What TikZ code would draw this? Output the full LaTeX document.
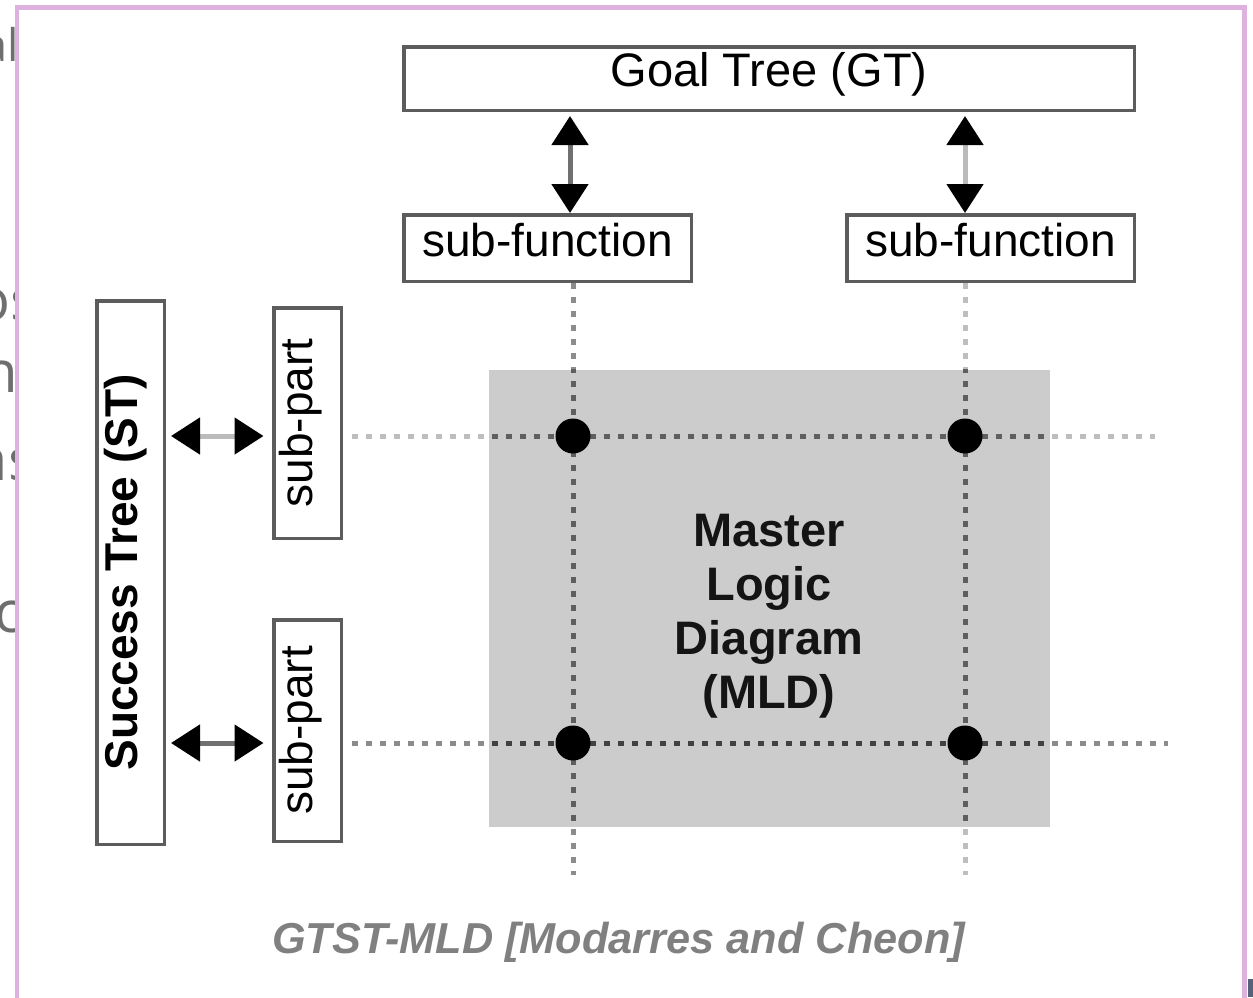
\documentclass[tikz,border=0pt]{standalone}
\usepackage{fontspec}
\setmainfont{Liberation Sans}
\newfontfamily\fragfont{Open Sans}
\usetikzlibrary{arrows.meta,calc}

\definecolor{framepink}{RGB}{221,178,223}
\definecolor{mldgray}{RGB}{204,204,204}
\definecolor{edgegray}{RGB}{92,92,92}
\definecolor{lightdot}{RGB}{190,190,190}
\definecolor{middot}{RGB}{140,140,140}
\definecolor{darkdot}{RGB}{95,95,95}
\definecolor{darkerdot}{RGB}{65,65,65}
\definecolor{shaftdark}{RGB}{112,112,112}
\definecolor{shaftlight}{RGB}{187,187,187}
\definecolor{captiongray}{RGB}{128,128,128}
\definecolor{fraggray}{RGB}{110,110,110}
\definecolor{cornerslate}{RGB}{86,98,122}

% text set on the node centre, shifted by #1 (baseline below centre when negative)
\newcommand{\boxtext}[2]{\raisebox{#1}[0pt][0pt]{#2}}

\tikzset{
  boxnode/.style={draw=edgegray, line width=3.5pt, fill=white, inner sep=0pt,
    font=\fontsize{46}{46}\selectfont},
  vboxnode/.style={boxnode, rotate=90},
  junction/.style={circle, fill=black, inner sep=0pt, minimum size=35pt},
  dblarrow/.style={line width=5pt,
    >={Triangle[width=36pt,length=29pt,color=black]}, <->},
  gridline/.style={line width=5pt, dash pattern=on 6pt off 8pt},
  fragtext/.style={anchor=base east, inner sep=0pt, text=fraggray},
}

\begin{document}
\begin{tikzpicture}[x=1pt,y=-1pt]
\useasboundingbox (0,0) rectangle (1253,997);

% text of the neighbouring column, cut off by the frame
\begin{scope}
  \clip (0,0) rectangle (17,997);
  \node[fragtext, font=\fragfont\fontsize{45}{45}\selectfont] (fragA) at (19,61) {al};
  \node[fragtext, font=\fragfont\fontsize{58}{58}\selectfont] (fragB) at (38,320) {os};
  \node[fragtext, font=\fragfont\fontsize{58}{58}\selectfont] (fragC) at (18,392) {n};
  \node[fragtext, font=\fragfont\fontsize{58}{58}\selectfont] (fragD) at (36,480) {as};
  \node[fragtext, font=\fragfont\fontsize{58}{58}\selectfont] (fragE) at (22,632) {c};
\end{scope}

% outer frame
\draw[framepink, line width=4.5pt] (17,7.5) rectangle (1244.5,1012);
\fill[cornerslate] (1247.5,979) rectangle (1253,997);

% master logic diagram area
\node[fill=mldgray, minimum width=561pt, minimum height=457pt, inner sep=0pt]
  (mld) at (769.5,598.5) {};

% boxes of the goal tree and the success tree
\node[boxnode, minimum width=730.5pt, minimum height=63.5pt,
  font=\fontsize{47}{47}\selectfont] (gt) at (769,78.5) {\boxtext{-7.5pt}{Goal Tree (GT)}};
\node[boxnode, minimum width=287.5pt, minimum height=66.5pt] (sf1) at (547.5,248)
  {\boxtext{-8pt}{sub-function}};
\node[boxnode, minimum width=287.5pt, minimum height=66.5pt] (sf2) at (990.5,248)
  {\boxtext{-8pt}{sub-function}};
\node[vboxnode, minimum width=543.5pt, minimum height=67.5pt,
  font=\bfseries\fontsize{46}{46}\selectfont] (st) at (130.5,572.5)
  {\boxtext{-6.5pt}{Success Tree (ST)}};
\node[vboxnode, minimum width=230.5pt, minimum height=67.5pt] (sp1) at (307.5,423)
  {\boxtext{-4.5pt}{sub-part}};
\node[vboxnode, minimum width=221.5pt, minimum height=67.5pt] (sp2) at (307.5,730.5)
  {\boxtext{-4.5pt}{sub-part}};

% crossing points of functions and parts
\coordinate (j11) at (573,436);
\coordinate (j12) at (965,436);
\coordinate (j21) at (573,743);
\coordinate (j22) at (965,743);
\coordinate (vbottom) at (0,875);
\coordinate (hleft) at (352,0);
\coordinate (hright1) at (1155,0);
\coordinate (hright2) at (1168,0);
\coordinate (arrowx) at (570,0);

% dotted grid, lighter outside the diagram area
\draw[gridline, middot] (sf1.south -| j11) -- (j11 |- vbottom);
\draw[gridline, lightdot] (sf2.south -| j12) -- (j12 |- vbottom);
\draw[gridline, lightdot] (j11 -| hleft) -- (j12 -| hright1);
\draw[gridline, middot] (j21 -| hleft) -- (j22 -| hright2);
\begin{scope}
  \clip (mld.north west) rectangle (mld.south east);
  \draw[gridline, darkdot] (sf1.south -| j11) -- (j11 |- vbottom);
  \draw[gridline, darkdot] (sf2.south -| j12) -- (j12 |- vbottom);
  \draw[gridline, darkdot] (j11 -| hleft) -- (j12 -| hright1);
  \draw[gridline, darkerdot] (j21 -| hleft) -- (j22 -| hright2);
\end{scope}

\node[junction] (d11) at (j11) {};
\node[junction] (d12) at (j12) {};
\node[junction] (d21) at (j21) {};
\node[junction] (d22) at (j22) {};

\node[font=\bfseries\fontsize{47}{54}\selectfont, align=center, text=black!92]
  (mldtext) at (769,616) {Master\\Logic\\Diagram\\(MLD)};

% links between the trees and their sub-items
\draw[dblarrow, shaftdark, shorten <=4pt] (gt.south -| arrowx) -- (sf1.north -| arrowx);
\draw[dblarrow, shaftlight, shorten <=4pt] (gt.south -| d12) -- (sf2.north -| d12);
\draw[dblarrow, shaftlight, shorten <=5pt, shorten >=8.5pt] (st.south |- d11) -- (sp1.north |- d11);
\draw[dblarrow, shaftdark, shorten <=5pt, shorten >=8.5pt] (st.south |- d21) -- (sp2.north |- d21);

% caption
\node[anchor=base, inner sep=0pt, text=captiongray,
  font=\bfseries\itshape\fontsize{43.3}{43.3}\selectfont] (caption) at (618.5,953)
  {GTST-MLD [Modarres and Cheon]};
\end{tikzpicture}
\end{document}
